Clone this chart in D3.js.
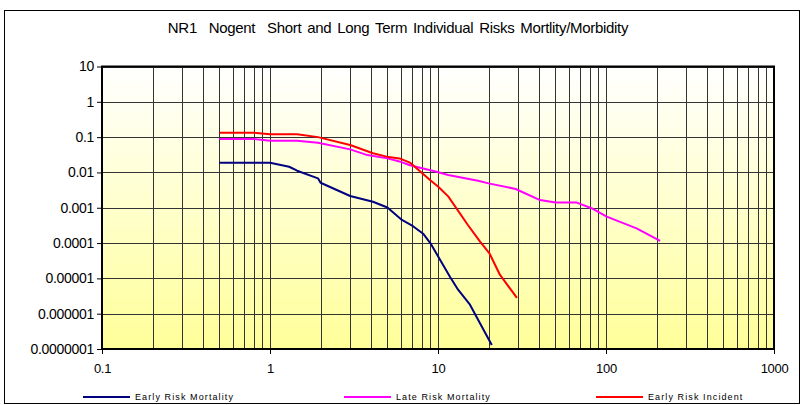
<!DOCTYPE html>
<html><head><meta charset="utf-8">
<script src="https://cdn.jsdelivr.net/npm/d3@7"></script>
<style>body{margin:0;background:#fff}svg{display:block}text{font-family:"Liberation Sans",Arial,sans-serif}</style>
</head><body><svg id="c" width="801" height="405"></svg>
<script>
const title = "NR1  Nogent  Short and Long Term Individual Risks Mortlity/Morbidity";
const seriesNames = ["Early Risk Mortality", "Late Risk Mortality", "Early Risk Incident"];
const seriesColors = ["#000080", "#FF00FF", "#FF0000"];
const earlyMortX = [0.5, 0.7, 1.0, 1.3, 1.45, 1.93, 2.0, 3.0, 4.1, 5.0, 6.1, 7.1, 8.2, 9.0, 11.8, 13.2, 15.5, 20.9];
const earlyMortY = [0.0188, 0.0188, 0.0188, 0.0145, 0.0112, 0.0068, 0.0051, 0.00215, 0.00148, 0.00102, 0.00045, 0.0003, 0.00018, 0.0001, 0.000011, 0.0000047, 0.0000018, 0.00000013];
const lateMortX = [0.5, 0.8, 1.0, 1.45, 1.93, 3.0, 3.8, 5.0, 5.9, 6.8, 9.8, 11.5, 17.3, 20, 29, 40.5, 50, 67, 82, 101, 152, 210];
const lateMortY = [0.088, 0.088, 0.079, 0.079, 0.069, 0.045, 0.031, 0.025, 0.0205, 0.016, 0.0105, 0.0085, 0.0058, 0.0049, 0.0034, 0.00165, 0.0014, 0.0014, 0.00097, 0.00056, 0.00026, 0.000116];
const earlyIncX = [0.5, 0.8, 1.0, 1.45, 1.93, 3.0, 4.1, 4.95, 5.9, 6.8, 9.0, 10.0, 11.5, 15.1, 17.8, 20.3, 23.4, 29.5];
const earlyIncY = [0.133, 0.133, 0.12, 0.12, 0.1, 0.06, 0.035, 0.028, 0.025, 0.019, 0.006, 0.004, 0.0021, 0.00032, 0.00011, 0.00005, 0.0000125, 0.0000028];
const xTicks = [0.1, 1, 10, 100, 1000];
const xTickLabels = ["0.1", "1", "10", "100", "1000"];
const yTicks = [10, 1, 0.1, 0.01, 0.001, 0.0001, 0.00001, 0.000001, 0.0000001];
const yTickLabels = ["10", "1", "0.1", "0.01", "0.001", "0.0001", "0.00001", "0.000001", "0.0000001"];

const svg = d3.select("#c");
const L = 102, R = 774, T = 66.5, B = 349;
const x = d3.scaleLog().domain([0.1, 1000]).range([L, R]);
const y = d3.scaleLog().domain([0.0000001, 10]).range([B, T]);

// outer frame
svg.append("rect").attr("x", 4.5).attr("y", 10.5).attr("width", 795).attr("height", 393)
  .attr("fill", "#fff").attr("stroke", "#000").attr("stroke-width", 1);

const defs = svg.append("defs");
const g = defs.append("linearGradient").attr("id", "bg").attr("x1", 0).attr("y1", 0).attr("x2", 0).attr("y2", 1);
g.append("stop").attr("offset", "0%").attr("stop-color", "#FFFFFF");
g.append("stop").attr("offset", "100%").attr("stop-color", "#FFFF99");
svg.append("rect").attr("x", L).attr("y", T).attr("width", R - L).attr("height", B - T).attr("fill", "url(#bg)");

// minor vertical gridlines
const minorX = [];
for (let e = -1; e < 3; e++) for (let m = 1; m <= 9; m++) minorX.push(m * Math.pow(10, e));
minorX.push(1000);
svg.append("g").selectAll("line").data(minorX).join("line")
  .attr("x1", d => Math.round(x(d)) + 0.5).attr("x2", d => Math.round(x(d)) + 0.5)
  .attr("y1", T).attr("y2", B).attr("stroke", "#333").attr("stroke-width", 1);
svg.append("g").selectAll("line").data(yTicks).join("line")
  .attr("y1", d => Math.round(y(d)) + 0.5).attr("y2", d => Math.round(y(d)) + 0.5)
  .attr("x1", L).attr("x2", R).attr("stroke", "#333").attr("stroke-width", 1);

// axes
const yAxis = d3.axisLeft(y).tickValues(yTicks).tickFormat((d, i) => yTickLabels[i]).tickSize(5).tickPadding(3);
const ya = svg.append("g").attr("transform", `translate(${L},0)`).call(yAxis);
ya.select(".domain").remove();
ya.selectAll("text").attr("font-size", 14).attr("fill", "#000").attr("letter-spacing", -0.3).style("font-family", "Liberation Sans, Arial, sans-serif");
const xAxis = d3.axisBottom(x).tickValues(xTicks).tickFormat((d, i) => xTickLabels[i]).tickSize(5).tickPadding(10);
const xa = svg.append("g").attr("transform", `translate(0,${B})`).call(xAxis);
xa.select(".domain").remove();
xa.selectAll("text").attr("font-size", 13).attr("fill", "#000").attr("letter-spacing", -0.3).style("font-family", "Liberation Sans, Arial, sans-serif");

// plot border
svg.append("rect").attr("x", L).attr("y", T).attr("width", R - L).attr("height", B - T)
  .attr("fill", "none").attr("stroke", "#000").attr("stroke-width", 2);

const series = [
  {xs: earlyMortX, ys: earlyMortY},
  {xs: lateMortX, ys: lateMortY},
  {xs: earlyIncX, ys: earlyIncY}
];
const line = d3.line().x(d => x(d[0])).y(d => y(d[1]));
series.forEach((s, i) => {
  const pts = s.xs.map((v, j) => [v, s.ys[j]]);
  svg.append("path").datum(pts).attr("d", line).attr("fill", "none")
    .attr("stroke", seriesColors[i]).attr("stroke-width", 2).attr("stroke-linejoin", "round");
});

// title
svg.append("text").attr("x", 398).attr("y", 33).attr("text-anchor", "middle")
  .attr("font-size", 15).attr("letter-spacing", -0.3).attr("word-spacing", 2)
  .style("white-space", "pre").text(title);

// legend
const legX = [83, 344, 596];
const lg = svg.append("g");
seriesNames.forEach((n, i) => {
  lg.append("line").attr("x1", legX[i]).attr("x2", legX[i] + 47).attr("y1", 397).attr("y2", 397)
    .attr("stroke", seriesColors[i]).attr("stroke-width", 2);
  lg.append("text").attr("x", legX[i] + 52).attr("y", 400).attr("font-size", 9)
    .attr("letter-spacing", 1.1).text(n);
});
</script></body></html>
